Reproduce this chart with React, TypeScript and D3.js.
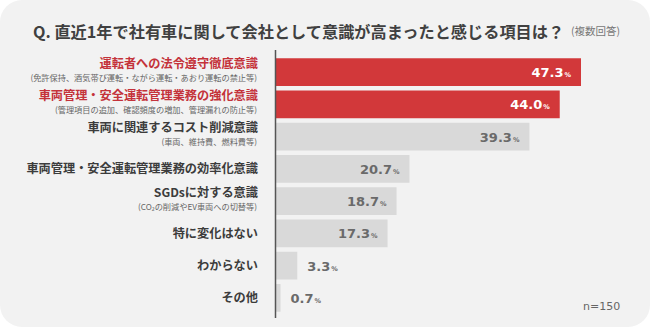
import React from "react";
import * as d3 from "d3";

const categories = [
  "運転者への法令遵守徹底意識",
  "車両管理・安全運転管理業務の強化意識",
  "車両に関連するコスト削減意識",
  "車両管理・安全運転管理業務の効率化意識",
  "SGDsに対する意識",
  "特に変化はない",
  "わからない",
  "その他",
];
const subLabels = [
  "(免許保持、酒気帯び運転・ながら運転・あおり運転の禁止等)",
  "(管理項目の追加、確認頻度の増加、管理漏れの防止等)",
  "(車両、維持費、燃料費等)",
  "",
  "(CO₂の削減やEV車両への切替等)",
  "",
  "",
  "",
];
const values = [47.3, 44.0, 39.3, 20.7, 18.7, 17.3, 3.3, 0.7];
const highlighted = [true, true, false, false, false, false, false, false];
const title = "Q.  直近1年で社有車に関して会社として意識が高まったと感じる項目は？";
const note = "(複数回答)";
const sampleLabel = "n=150";

const W = 651;
const H = 329;
const FONT = "'Noto Sans CJK JP', 'Noto Sans', sans-serif";

export default function App() {
  const x0 = 276;
  const x = d3.scaleLinear().domain([0, 47.3]).range([x0, 581]);
  const y = d3
    .scaleBand<number>()
    .domain(d3.range(categories.length))
    .range([56, 314])
    .paddingInner(0.14)
    .paddingOuter(0.07);
  const bw = y.bandwidth();

  return (
    <svg
      width={W}
      height={H}
      style={{ position: "fixed", left: 0, top: 0, background: "#ffffff" }}
      fontFamily={FONT}
    >
      <rect x={0} y={0} width={W - 1} height={H - 2} rx={22} ry={22} fill="#f2f2f2" />
      <text x={33} y={38} fontSize={16.2} fontWeight={700} fill="#404040">
        {title}
      </text>
      <text x={571} y={35} fontSize={10.5} fill="#777">
        {note}
      </text>
      {values.map((v, i) => {
        const yc = (y(i) as number) + bw / 2;
        const hi = highlighted[i];
        const xe = x(v);
        const inside = v > 10;
        return (
          <g key={i}>
            <rect
              x={x0}
              y={y(i)}
              width={xe - x0}
              height={bw}
              fill={hi ? "#d2383a" : "#d9d9d9"}
            />
            <text
              x={inside ? xe - 10 : xe + 10}
              y={yc + 5}
              textAnchor={inside ? "end" : "start"}
              fontFamily="Verdana, 'DejaVu Sans', sans-serif"
              fontWeight={700}
              fill={hi ? "#ffffff" : "#6a6a6a"}
            >
              <tspan fontSize={13}>{v.toFixed(1)}</tspan>
              <tspan fontSize={6.5} dx={1}>%</tspan>
            </text>
            {subLabels[i] ? (
              <>
                <text
                  x={258}
                  y={yc - 4.5}
                  textAnchor="end"
                  fontSize={12.2}
                  fontWeight={700}
                  fill={hi ? "#c4323a" : "#3c3c3c"}
                >
                  {categories[i]}
                </text>
                <text x={257} y={yc + 8.5} textAnchor="end" fontSize={8.2} fill="#666">
                  {subLabels[i]}
                </text>
              </>
            ) : (
              <text
                x={258}
                y={yc + 4.5}
                textAnchor="end"
                fontSize={12.2}
                fontWeight={700}
                fill={hi ? "#c4323a" : "#3c3c3c"}
              >
                {categories[i]}
              </text>
            )}
          </g>
        );
      })}
      <line x1={x0 - 0.5} x2={x0 - 0.5} y1={50} y2={318} stroke="#555" strokeWidth={1.5} />
      <text x={583} y={310} fontSize={11} fill="#666" fontFamily="Verdana, 'DejaVu Sans', sans-serif">
        {sampleLabel}
      </text>
    </svg>
  );
}
